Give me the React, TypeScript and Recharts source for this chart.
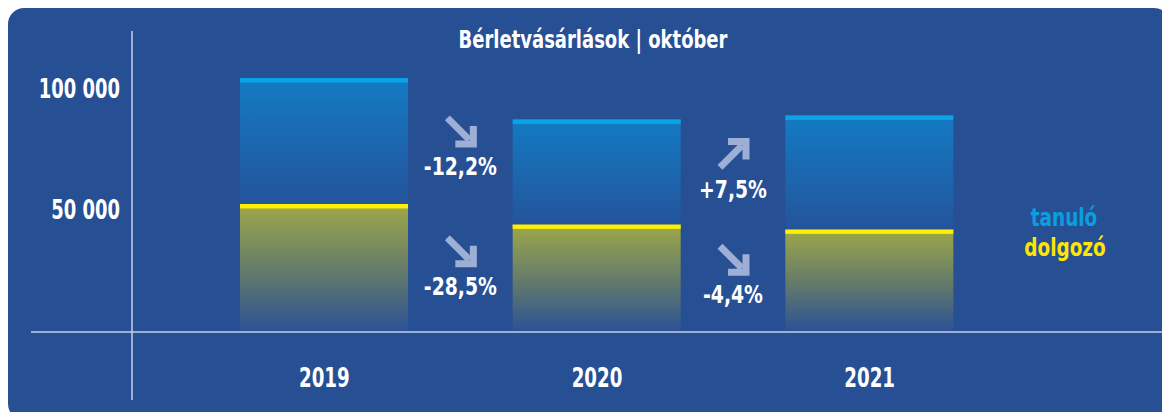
import { BarChart, Bar, XAxis, YAxis } from "recharts";

const years = ["2019", "2020", "2021"];
const dolgozo = [52300, 43900, 41850];
const tanulo = [51800, 43200, 46900];
const tanuloChange = ["", "-12,2%", "+7,5%"];
const dolgozoChange = ["", "-28,5%", "-4,4%"];
const yTicks = [50000, 100000];

const data = years.map((year, i) => ({
  year,
  dolgozo: dolgozo[i],
  tanulo: tanulo[i],
  tanuloChange: tanuloChange[i],
  dolgozoChange: dolgozoChange[i],
}));

const FONT = '"DejaVu Sans Condensed", "DejaVu Sans", sans-serif';
const W = 1162;
const H = 412;
const PLOT_LEFT = 188;
const PLOT_W = 818;
const STEP = PLOT_W / years.length;
const BG = "#274f94";
const AXIS = "#c6d1e8";

// baseline shift of the change labels from the middle of the segment they describe
const NOTE_SHIFT: Record<string, number[]> = {
  tanulo: [0, 3, 26],
  dolgozo: [0, 17, 23],
};

const fmt = (v: number) => String(v).replace(/\B(?=(\d{3})+(?!\d))/g, " ");

// condensed bold text: the installed fonts are too wide, so squeeze horizontally
const SText = ({ x, y, sx, size, fill = "#fff", anchor = "middle", dy, children }: any) => (
  <g transform={`translate(${x},${y}) scale(${sx},1)`}>
    <text x={0} y={0} dy={dy} textAnchor={anchor} fill={fill} fontFamily={FONT} fontWeight={700} fontSize={size}>
      {children}
    </text>
  </g>
);

const YTick = (p: any) => (
  <SText x={p.x} y={p.y} sx={0.74} size={27} anchor="end" dy="0.36em">
    {fmt(p.payload.value)}
  </SText>
);

const XTick = (p: any) => (
  <SText x={p.x} y={p.y} sx={0.75} size={27} dy="0.73em">
    {p.payload.value}
  </SText>
);

const Arrow = ({ cx, cy, up }: { cx: number; cy: number; up: boolean }) => (
  <g transform={`translate(${cx},${cy}) rotate(${up ? -90 : 0})`} stroke="#9eafd6" strokeWidth={7} fill="none">
    <line x1={-13} y1={-13} x2={9} y2={9} />
    <polyline points="13,-5 13,13 -5,13" strokeLinejoin="miter" />
  </g>
);

const makeShape = (kind: "tanulo" | "dolgozo") => (props: any) => {
  const { x, y, width, height, index, payload } = props;
  const line = kind === "tanulo" ? "#0aa3e6" : "#fff000";
  const note: string = kind === "tanulo" ? payload.tanuloChange : payload.dolgozoChange;
  const cx = x - (STEP - width) / 2;
  const base = y + height / 2 + NOTE_SHIFT[kind][index];
  return (
    <g>
      <rect x={x} y={y} width={width} height={height} fill={`url(#grad-${kind})`} />
      <rect x={x} y={y} width={width} height={4.5} fill={line} />
      {note && (
        <g>
          <Arrow cx={cx} cy={base - 44} up={note.startsWith("+")} />
          <SText x={cx} y={base} sx={0.87} size={24}>
            {note}
          </SText>
        </g>
      )}
    </g>
  );
};

export default function App() {
  return (
    <div style={{ position: "fixed", left: 0, top: 0, width: W, height: H, overflow: "hidden", background: "#fff" }}>
      <div style={{ position: "absolute", left: 8, top: 8, width: W, height: H, background: BG, borderRadius: 16 }} />
      <svg width={0} height={0} style={{ position: "absolute" }}>
        <defs>
          <linearGradient id="grad-tanulo" x1="0" y1="0" x2="0" y2="1">
            <stop offset="0%" stopColor="#137bc3" />
            <stop offset="100%" stopColor="#24549b" />
          </linearGradient>
          <linearGradient id="grad-dolgozo" x1="0" y1="0" x2="0" y2="1">
            <stop offset="0%" stopColor="#9ea848" />
            <stop offset="55%" stopColor="#62796c" />
            <stop offset="100%" stopColor="#2b5296" />
          </linearGradient>
        </defs>
      </svg>
      <div style={{ position: "absolute", left: 0, top: 0 }}>
        <BarChart
          width={W}
          height={H}
          data={data}
          margin={{ top: 31, right: W - PLOT_LEFT - PLOT_W, bottom: 21, left: 0 }}
        >
          <XAxis
            dataKey="year"
            axisLine={false}
            tickLine={false}
            tickSize={0}
            tickMargin={36}
            height={60}
            tick={<XTick />}
          />
          <YAxis
            width={PLOT_LEFT}
            domain={[0, 123500]}
            ticks={yTicks}
            axisLine={false}
            tickLine={false}
            tickSize={0}
            tickMargin={68}
            tick={<YTick />}
          />
          <Bar dataKey="dolgozo" stackId="a" barSize={168} isAnimationActive={false} shape={makeShape("dolgozo")} />
          <Bar dataKey="tanulo" stackId="a" barSize={168} isAnimationActive={false} shape={makeShape("tanulo")} />
        </BarChart>
      </div>
      <svg width={W} height={H} style={{ position: "absolute", left: 0, top: 0, pointerEvents: "none" }}>
        <line x1={132} y1={31} x2={132} y2={400} stroke={AXIS} strokeWidth={1.5} />
        <line x1={31} y1={332} x2={W} y2={332} stroke={AXIS} strokeWidth={1.5} />
        <SText x={593} y={48} sx={0.8} size={25}>
          Bérletvásárlások | október
        </SText>
        <SText x={1064} y={226} sx={0.82} size={25} fill="#0a9fe0">
          tanuló
        </SText>
        <SText x={1065} y={256} sx={0.82} size={25} fill="#ffe600">
          dolgozó
        </SText>
      </svg>
    </div>
  );
}
